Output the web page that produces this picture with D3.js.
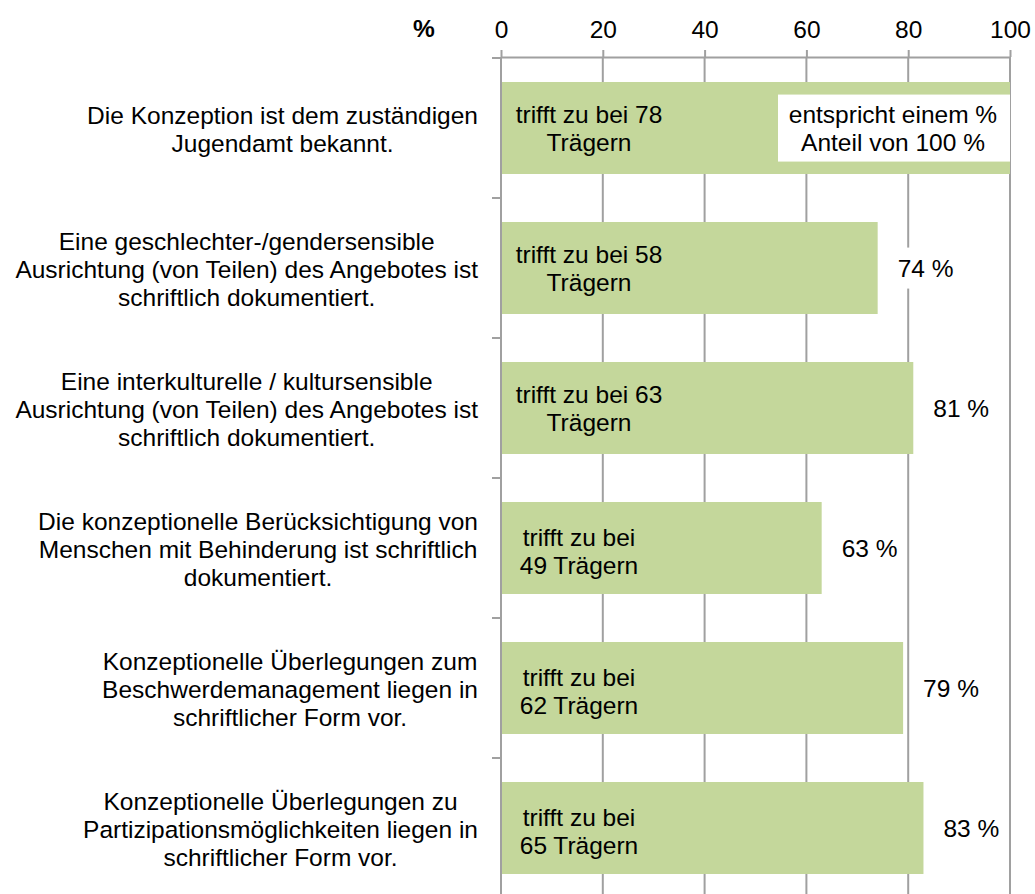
<!DOCTYPE html>
<html>
<head>
<meta charset="utf-8">
<script src="https://cdn.jsdelivr.net/npm/d3@7"></script>
<style>
  body { margin: 0; background: #fff; }
  text { font-family: "Liberation Sans", Arial, sans-serif; fill: #000; }
</style>
</head>
<body>
<svg id="chart" width="1035" height="894"></svg>
<script>
// data
const categories = [
  ["Die Konzeption ist dem zuständigen", "Jugendamt bekannt."],
  ["Eine geschlechter-/gendersensible", "Ausrichtung (von Teilen) des Angebotes ist", "schriftlich dokumentiert."],
  ["Eine interkulturelle / kultursensible", "Ausrichtung (von Teilen) des Angebotes ist", "schriftlich dokumentiert."],
  ["Die konzeptionelle Berücksichtigung von", "Menschen mit Behinderung ist schriftlich", "dokumentiert."],
  ["Konzeptionelle Überlegungen zum", "Beschwerdemanagement liegen in", "schriftlicher Form vor."],
  ["Konzeptionelle Überlegungen zu", "Partizipationsmöglichkeiten liegen in", "schriftlicher Form vor."]
];
const percentages = [100, 74, 81, 63, 79, 83];
const counts = [78, 58, 63, 49, 62, 65];
const xTicks = [0, 20, 40, 60, 80, 100];

var svg = d3.select("#chart");
var fontSize = 24.5;
var lineH = 28;
var gridColor = "#a0a0a0";
var barColor = "#c4d79b";

var x = d3.scaleLinear().domain([0, 100]).range([501, 1010]);
var y = d3.scaleBand()
  .domain(d3.range(categories.length))
  .range([58, 898])
  .paddingInner(0.343)
  .paddingOuter(0.1715);

// vertical gridlines
svg.append("g")
  .selectAll("line")
  .data(xTicks.filter(d => d > 0))
  .enter()
  .append("line")
  .attr("x1", d => x(d)).attr("x2", d => x(d))
  .attr("y1", 57).attr("y2", 894)
  .attr("stroke", gridColor)
  .attr("stroke-width", 2);

// top axis
var xAxis = svg.append("g")
  .attr("transform", "translate(0,57)")
  .call(d3.axisTop(x).tickValues(xTicks).tickSize(7).tickSizeOuter(0).tickPadding(12));
xAxis.select(".domain").attr("stroke", gridColor).attr("stroke-width", 2);
xAxis.selectAll(".tick line").attr("stroke", gridColor).attr("stroke-width", 2);
xAxis.selectAll(".tick text")
  .attr("font-size", fontSize)
  .attr("font-family", "Liberation Sans, Arial, sans-serif")
  .attr("fill", "#000");

svg.append("text")
  .attr("x", 424).attr("y", 28).attr("dy", "0.35em")
  .attr("text-anchor", "middle")
  .attr("font-size", fontSize)
  .attr("font-weight", "bold")
  .text("%");

// bars
svg.append("g")
  .selectAll("rect")
  .data(percentages)
  .enter()
  .append("rect")
  .attr("x", x(0))
  .attr("y", (d, i) => y(i))
  .attr("width", d => x(d) - x(0))
  .attr("height", y.bandwidth())
  .attr("fill", barColor);

// left axis line with ticks at band borders
svg.append("line")
  .attr("x1", 501).attr("x2", 501)
  .attr("y1", 57).attr("y2", 894)
  .attr("stroke", gridColor).attr("stroke-width", 2);
svg.append("g")
  .selectAll("line")
  .data(d3.range(categories.length))
  .enter()
  .append("line")
  .attr("x1", 492).attr("x2", 501)
  .attr("y1", i => y(i) - y.step() * 0.1715)
  .attr("y2", i => y(i) - y.step() * 0.1715)
  .attr("stroke", gridColor).attr("stroke-width", 2);

function multiLine(g, lines, cx, cy, anchor) {
  var t = g.append("text")
    .attr("font-size", fontSize)
    .attr("text-anchor", anchor || "middle");
  var off = -(lines.length - 1) / 2 * lineH;
  lines.forEach((l, k) => {
    t.append("tspan")
      .attr("x", cx)
      .attr("y", cy + off + k * lineH)
      .attr("dy", "0.35em")
      .text(l);
  });
  return t;
}

// category labels: block centered, right edge of widest line at 478
var catG = svg.append("g");
categories.forEach((lines, i) => {
  var tmp = catG.append("text").attr("font-size", fontSize);
  var w = d3.max(lines, l => { tmp.text(l); return tmp.node().getComputedTextLength(); });
  tmp.remove();
  var cy = y(i) + y.bandwidth() / 2 + 1;
  multiLine(catG, lines, 478 - w / 2, cy);
});

// labels inside the bars
var innerG = svg.append("g");
counts.forEach((c, i) => {
  var lines = i < 3 ? ["trifft zu bei " + c, "Trägern"] : ["trifft zu bei", c + " Trägern"];
  var cx = x(0) + (i < 3 ? 88 : 78);
  var cy = y(i) + y.bandwidth() / 2 + (i < 3 ? 0 : 3);
  multiLine(innerG, lines, cx, cy);
});

// value labels with white background
var valG = svg.append("g");
percentages.forEach((v, i) => {
  var cy = y(i) + y.bandwidth() / 2;
  var box = valG.append("rect").attr("fill", "#fff");
  var t, b;
  if (i === 0) {
    t = multiLine(valG, ["entspricht einem %", "Anteil von " + v + " %"], x(v) - 117, cy);
    b = t.node().getBBox();
    box.attr("x", x(v) - 232).attr("width", 232)
      .attr("y", b.y - 6).attr("height", b.height + 12);
  } else {
    t = multiLine(valG, [v + " %"], x(v) + 20, cy, "start");
    b = t.node().getBBox();
    box.attr("x", b.x - 10).attr("width", b.width + 19)
      .attr("y", b.y - 7).attr("height", b.height + 14);
  }
});
</script>
</body>
</html>
